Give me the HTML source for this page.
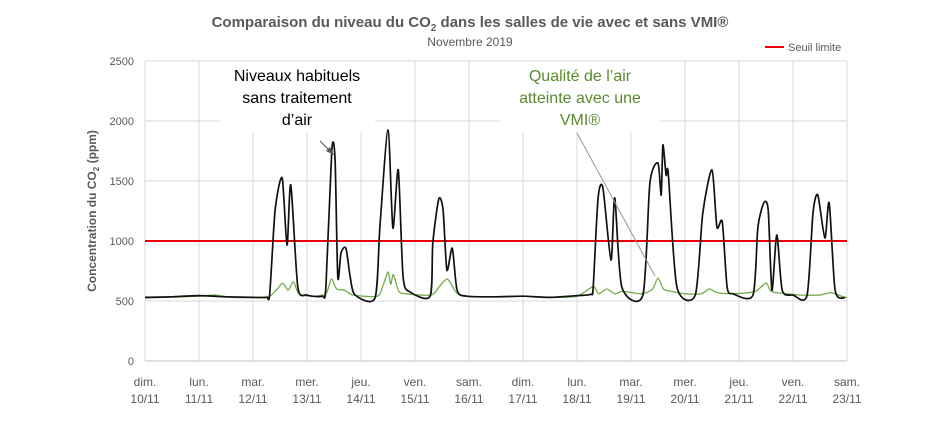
<!DOCTYPE html>
<html><head><meta charset="utf-8"><style>
body{margin:0;background:#fff;}
svg{display:block;font-family:"Liberation Sans",sans-serif;}
</style></head><body>
<svg id="chart" width="940" height="433" viewBox="0 0 940 433">
<text x="470" y="27" text-anchor="middle" font-size="15" font-weight="bold" fill="#595959">Comparaison du niveau du CO<tspan font-size="10" dy="4">2</tspan><tspan dy="-4"> dans les salles de vie avec et sans VMI®</tspan></text>
<text x="470" y="46" text-anchor="middle" font-size="12" fill="#595959">Novembre 2019</text>
<g>
<line x1="765" y1="47" x2="784" y2="47" stroke="#e00" stroke-width="2"/>
<text x="788" y="51" font-size="11" fill="#595959">Seuil limite</text>
</g>
<text transform="translate(96,211) rotate(-90)" text-anchor="middle" font-size="12" font-weight="bold" fill="#595959">Concentration du CO<tspan font-size="8" dy="3">2</tspan><tspan dy="-3"> (ppm)</tspan></text>
<g id="grid"></g>
<g id="ylabels"></g>
<g id="xlabels"></g>
<g id="series"></g>
<g>
<rect x="220" y="62" width="155" height="70" fill="#fff"/>
<text x="297" y="81" text-anchor="middle" font-size="16" fill="#000"><tspan x="297">Niveaux habituels</tspan><tspan x="297" dy="22">sans traitement</tspan><tspan x="297" dy="22">d’air</tspan></text>
<line x1="320" y1="141" x2="331" y2="152" stroke="#555" stroke-width="1"/>
<polygon points="334,155 326,151 330,147" fill="#555"/>
</g>
<g>
<rect x="500" y="62" width="160" height="70" fill="#fff"/>
<text x="580" y="81" text-anchor="middle" font-size="16" fill="#5a8a2e"><tspan x="580">Qualité de l’air</tspan><tspan x="580" dy="22">atteinte avec une</tspan><tspan x="580" dy="22">VMI®</tspan></text>
<line x1="577" y1="133" x2="655" y2="276" stroke="#999" stroke-width="1"/>
</g>
</svg>
<script>
const yTicks=[0,500,1000,1500,2000,2500];
const dayNames=["dim.","lun.","mar.","mer.","jeu.","ven.","sam.","dim.","lun.","mar.","mer.","jeu.","ven.","sam."];
const dayDates=["10/11","11/11","12/11","13/11","14/11","15/11","16/11","17/11","18/11","19/11","20/11","21/11","22/11","23/11"];
const threshold=1000;
const blackDays=[0,0.5,1,1.5,2,2.25,2.31,2.41,2.54,2.63,2.70,2.83,3.0,3.28,3.35,3.46,3.52,3.57,3.63,3.72,3.80,3.89,4.26,4.35,4.50,4.59,4.69,4.78,4.91,5.28,5.33,5.44,5.52,5.59,5.69,5.78,5.96,6.5,7,7.5,8,8.25,8.30,8.39,8.48,8.63,8.70,8.83,9.22,9.35,9.50,9.56,9.59,9.65,9.69,9.85,10.19,10.33,10.50,10.59,10.69,10.78,10.89,11.26,11.35,11.46,11.54,11.61,11.70,11.80,12.0,12.26,12.37,12.46,12.59,12.67,12.78,12.96];
const blackVals=[530,535,545,535,530,530,560,1258,1525,967,1467,617,550,540,617,1758,1675,700,900,940,700,550,525,1117,1925,1108,1592,700,575,540,983,1350,1258,758,940,590,540,535,540,530,545,555,617,1358,1442,842,1358,617,550,1483,1650,1383,1800,1550,1560,617,550,1233,1592,1117,1158,617,560,550,1117,1317,1258,590,1050,590,550,545,1233,1383,1025,1317,590,525];
const greenDays=[0,1,1.3,1.6,2,2.3,2.45,2.55,2.65,2.75,2.85,3.1,3.35,3.45,3.55,3.7,3.85,4.3,4.4,4.5,4.55,4.6,4.7,4.85,5.3,5.45,5.6,5.75,5.9,6.5,7,7.5,8,8.3,8.4,8.55,8.7,8.85,9.2,9.4,9.5,9.6,9.75,10,10.3,10.45,10.6,10.9,11.3,11.5,11.6,11.9,12.1,12.5,12.7,12.9,13];
const greenVals=[525,540,550,530,530,540,600,650,590,660,560,540,560,683,600,590,550,540,620,742,640,720,580,560,550,620,683,580,540,535,540,530,540,620,560,600,560,580,560,600,692,600,580,560,560,600,570,560,580,650,580,560,550,550,570,540,530];
const X0=145,X1=847,Y0=361,Y1=61;
const xs=d=>X0+(X1-X0)*d/13;
const ys=v=>Y0-(Y0-Y1)*v/2500;
const NS="http://www.w3.org/2000/svg";
function mk(tag,parent,attrs){const e=document.createElementNS(NS,tag);for(const k in attrs)e.setAttribute(k,attrs[k]);parent.appendChild(e);return e;}
function smooth(px,py){
 let d='M'+px[0]+','+py[0];
 const k=1/8;
 for(let i=0;i<px.length-1;i++){
  const p0=Math.max(0,i-1),p3=Math.min(px.length-1,i+2);
  const c1x=px[i]+(px[i+1]-px[p0])*k,c1y=py[i]+(py[i+1]-py[p0])*k;
  const c2x=px[i+1]-(px[p3]-px[i])*k,c2y=py[i+1]-(py[p3]-py[i])*k;
  d+=' C'+c1x.toFixed(1)+','+c1y.toFixed(1)+' '+c2x.toFixed(1)+','+c2y.toFixed(1)+' '+px[i+1].toFixed(1)+','+py[i+1].toFixed(1);
 }
 return d;
}
const grid=document.getElementById('grid'),yl=document.getElementById('ylabels'),xl=document.getElementById('xlabels'),ser=document.getElementById('series');
yTicks.forEach(t=>{
 const l=mk('line',grid,{x1:X0,x2:X1,y1:ys(t),y2:ys(t),stroke:t===0?'#bfbfbf':'#d9d9d9','stroke-width':1});
 
 
 const tx=mk('text',yl,{x:134,y:ys(t)+4,'text-anchor':'end','font-size':11,fill:'#595959'});
 tx.textContent=t;
 
 
});
dayNames.forEach((n,i)=>{
 const l=mk('line',grid,{x1:xs(i),x2:xs(i),y1:Y1,y2:Y0,stroke:'#d9d9d9','stroke-width':1});
 
 
 const tx=mk('text',xl,{x:xs(i),y:386,'text-anchor':'middle','font-size':12,fill:'#595959'});
 
 
 const a=mk('tspan',tx,{x:xs(i)});a.textContent=n;
 const b=mk('tspan',tx,{x:xs(i),dy:17});b.textContent=dayDates[i];
});
const th=mk('line',ser,{x1:X0,x2:X1,y1:ys(threshold),y2:ys(threshold),stroke:'#e00','stroke-width':2});


const gp=mk('path',ser,{d:smooth(greenDays.map(xs),greenVals.map(ys)),fill:'none',stroke:'#70ad47','stroke-width':1.3,'stroke-linejoin':'round'});


const bp=mk('path',ser,{d:smooth(blackDays.map(xs),blackVals.map(ys)),fill:'none',stroke:'#111','stroke-width':1.7,'stroke-linejoin':'round'});


</script>
</body></html>
